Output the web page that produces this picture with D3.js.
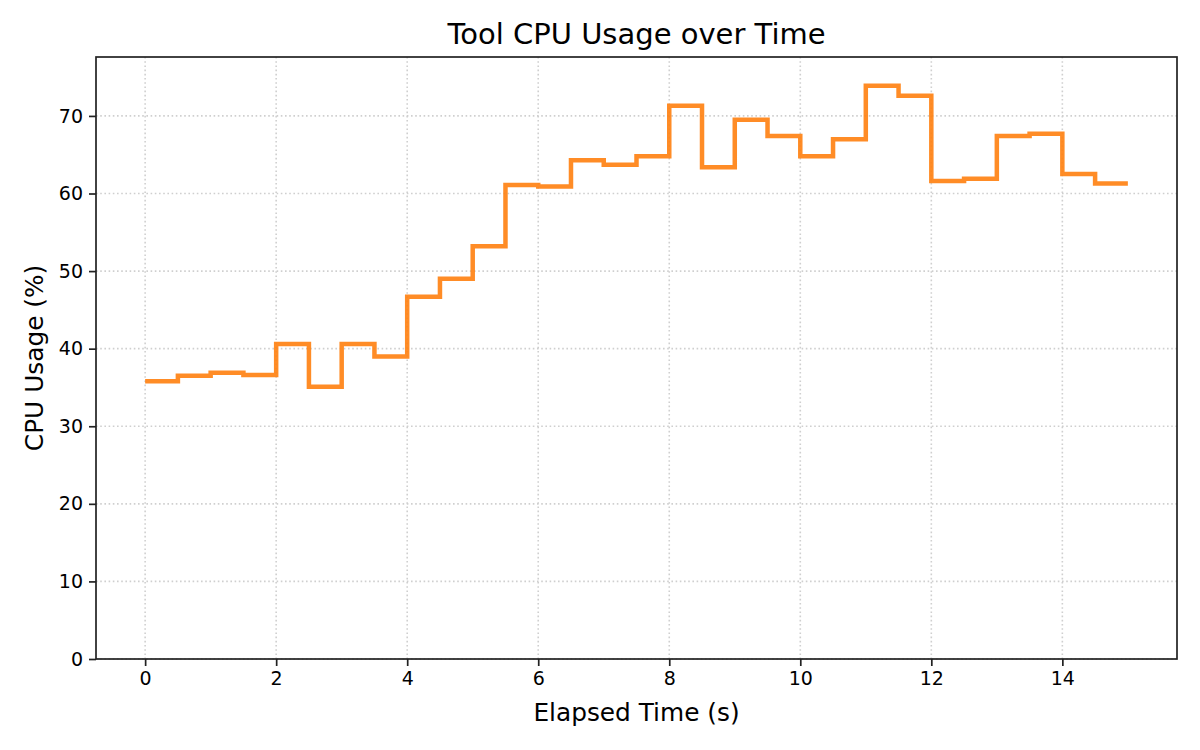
<!DOCTYPE html>
<html>
<head>
<meta charset="utf-8">
<script src="https://cdn.jsdelivr.net/npm/d3@7"></script>
<style>
  body { margin: 0; background: #fff; }
  svg text { font-family: 'DejaVu Sans', sans-serif; fill: #000; }
</style>
</head>
<body>
<svg id="chart" width="1200" height="750"></svg>
<script>
// elapsed time (s), one sample every 0.5 s
const times = d3.range(0, 15.01, 0.5)
// CPU usage (%) per sample
const cpuUsage = [
  35.8, 36.5, 36.9, 36.6, 40.6, 35.1, 40.6, 39.0, 46.7, 49.0,
  53.2, 61.1, 60.9, 64.3, 63.7, 64.8, 71.3, 63.4, 69.5, 67.4,
  64.8, 67.0, 73.9, 72.6, 61.6, 61.9, 67.4, 67.7, 62.5, 61.3,
  61.3
]
const xTicks = [0, 2, 4, 6, 8, 10, 12, 14]
const yTicks = [0, 10, 20, 30, 40, 50, 60, 70]

const margin = {top: 57, right: 23, bottom: 91, left: 96}
const width = 1200, height = 750
const innerW = width - margin.left - margin.right
const innerH = height - margin.top - margin.bottom

const svg = d3.select('#chart')
const g = svg.append('g')
  .attr('transform', `translate(${margin.left},${margin.top})`)

// matplotlib style 5% x margins, y from 0 to 5% above the max
const x = d3.scaleLinear()
  .domain([-0.75, 15.75])
  .range([0, innerW])
const y = d3.scaleLinear()
  .domain([0, d3.max(cpuUsage) * 1.05])
  .range([innerH, 0])

// grid
g.append('g')
  .selectAll('line')
  .data(xTicks)
  .join('line')
  .attr('x1', (d) => x(d)).attr('x2', (d) => x(d))
  .attr('y1', 0).attr('y2', innerH)
  .attr('stroke', '#cfcfcf')
  .attr('stroke-width', 1.6)
  .attr('stroke-dasharray', '1.6,2.6')

g.append('g')
  .selectAll('line')
  .data(yTicks)
  .join('line')
  .attr('x1', 0).attr('x2', innerW)
  .attr('y1', (d) => y(d)).attr('y2', (d) => y(d))
  .attr('stroke', '#cfcfcf')
  .attr('stroke-width', 1.6)
  .attr('stroke-dasharray', '1.6,2.6')

// step line (post)
const line = d3.line()
  .x((d, i) => x(times[i]))
  .y((d) => y(d))
  .curve(d3.curveStepAfter)

g.append('path')
  .datum(cpuUsage)
  .attr('d', line)
  .attr('fill', 'none')
  .attr('stroke', '#ff7f0e')
  .attr('stroke-opacity', 0.9)
  .attr('stroke-width', 4.5)
  .attr('stroke-linejoin', 'miter')
  .attr('stroke-linecap', 'butt')

// axes
const xAxis = g.append('g')
  .attr('transform', `translate(0,${innerH})`)
  .call(d3.axisBottom(x).tickValues(xTicks).tickSize(7).tickPadding(6))
const yAxis = g.append('g')
  .call(d3.axisLeft(y).tickValues(yTicks).tickSize(7).tickPadding(6))

for (const ax of [xAxis, yAxis]) {
  ax.select('.domain').remove()
  ax.selectAll('.tick line').attr('stroke', '#222').attr('stroke-width', 1.7)
  ax.selectAll('.tick text')
    .style('font-family', "'DejaVu Sans', sans-serif")
    .style('font-size', '19px')
    .attr('fill', '#000')
}

// frame
g.append('rect')
  .attr('x', 0).attr('y', 0)
  .attr('width', innerW).attr('height', innerH)
  .attr('fill', 'none')
  .attr('stroke', '#222')
  .attr('stroke-width', 1.7)

// labels
svg.append('text')
  .attr('x', margin.left + innerW / 2)
  .attr('y', 44)
  .attr('text-anchor', 'middle')
  .style('font-size', '29px')
  .text('Tool CPU Usage over Time')

svg.append('text')
  .attr('x', margin.left + innerW / 2)
  .attr('y', 721)
  .attr('text-anchor', 'middle')
  .style('font-size', '24.8px')
  .text('Elapsed Time (s)')

svg.append('text')
  .attr('transform', `translate(42.5,${margin.top + innerH / 2}) rotate(-90)`)
  .attr('text-anchor', 'middle')
  .style('font-size', '24.8px')
  .text('CPU Usage (%)')
</script>
</body>
</html>
